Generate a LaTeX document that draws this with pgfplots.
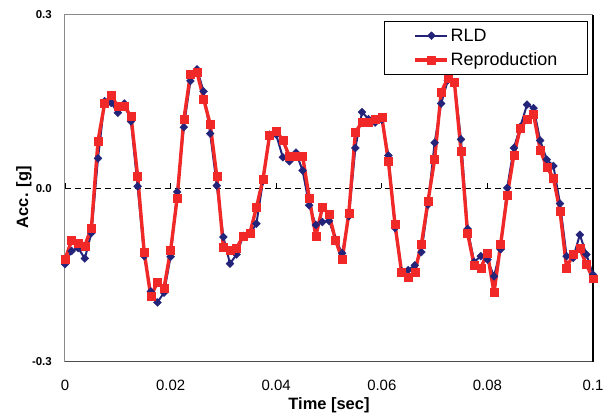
\documentclass[border=0pt]{standalone}
\usepackage{fontspec}
\setmainfont{Liberation Sans}
\usepackage{pgfplots}
\pgfplotsset{compat=1.18}
\usepackage{pgfplotstable}
\definecolor{rldBlue}{HTML}{23237A}
\definecolor{repRed}{HTML}{F02828}
\definecolor{frameG}{HTML}{8A8A8A}

% time [s], RLD [g], reproduction [g]
\pgfplotstableread{
t rld rep
0 -0.131 -0.123
0.00125 -0.108 -0.090
0.0025 -0.103 -0.094
0.00375 -0.121 -0.099
0.005 -0.077 -0.068
0.00625 0.052 0.082
0.0075 0.151 0.147
0.00875 0.148 0.161
0.01 0.131 0.142
0.01125 0.147 0.142
0.0125 0.116 0.125
0.01375 0.004 0.022
0.015 -0.117 -0.110
0.01625 -0.178 -0.187
0.0175 -0.197 -0.162
0.01875 -0.180 -0.172
0.02 -0.118 -0.107
0.02125 -0.006 -0.016
0.0225 0.106 0.119
0.02375 0.186 0.197
0.025 0.206 0.201
0.02625 0.168 0.155
0.0275 0.095 0.111
0.02875 0.005 0.021
0.03 -0.084 -0.101
0.03125 -0.130 -0.107
0.0325 -0.114 -0.103
0.03375 -0.082 -0.082
0.035 -0.078 -0.078
0.03625 -0.061 -0.033
0.0375 0.013 0.016
0.03875 0.093 0.092
0.04 0.093 0.099
0.04125 0.054 0.084
0.0425 0.047 0.055
0.04375 0.062 0.055
0.045 0.031 0.056
0.04625 -0.029 -0.016
0.0475 -0.063 -0.082
0.04875 -0.058 -0.033
0.05 -0.056 -0.044
0.05125 -0.088 -0.090
0.0525 -0.112 -0.122
0.05375 -0.048 -0.043
0.055 0.070 0.097
0.05625 0.132 0.115
0.0575 0.120 0.115
0.05875 0.114 0.119
0.06 0.119 0.124
0.06125 0.057 0.047
0.0625 -0.068 -0.062
0.06375 -0.143 -0.145
0.065 -0.141 -0.154
0.06625 -0.133 -0.145
0.0675 -0.110 -0.096
0.06875 -0.028 -0.022
0.07 0.079 0.050
0.07125 0.147 0.167
0.0725 0.187 0.190
0.07375 0.184 0.184
0.075 0.085 0.065
0.07625 -0.070 -0.078
0.0775 -0.127 -0.133
0.07875 -0.117 -0.137
0.08 -0.123 -0.112
0.08125 -0.152 -0.180
0.0825 -0.105 -0.097
0.08375 0.001 -0.012
0.085 0.070 0.057
0.08625 0.107 0.105
0.0875 0.145 0.119
0.08875 0.139 0.128
0.09 0.083 0.067
0.09125 0.050 0.037
0.0925 0.039 0.018
0.09375 -0.026 -0.039
0.095 -0.117 -0.137
0.09625 -0.120 -0.114
0.0975 -0.080 -0.104
0.09875 -0.114 -0.131
0.1 -0.149 -0.156
}\accdata

\tikzset{
  rldline/.style={rldBlue, line width=2pt, line join=round},
  repline/.style={repRed, line width=3.4pt, line join=round},
  rldmark/.style={rldBlue, mark=square*, mark size=2.8pt,
                  mark options={rotate=45, solid, line width=0.4pt}},
  repmark/.style={repRed, mark=square*, mark size=4pt,
                  mark options={solid, line width=0.4pt}},
}

\begin{document}
\begin{tikzpicture}
\begin{axis}[
    scale only axis, width=528bp, height=347bp,
    xmin=0, xmax=0.1, ymin=-0.3, ymax=0.3,
    clip=false,
    axis line style={draw=none},
    scaled x ticks=false,
    xtick={0,0.02,0.04,0.06,0.08,0.1},
    xticklabels={0,0.02,0.04,0.06,0.08,0.1},
    ytick={-0.3,0,0.3},
    yticklabels={-0.3,0.0,0.3},
    major tick length=0pt,
    xticklabel style={font=\fontsize{15}{18}\selectfont, inner sep=0pt, anchor=north},
    yticklabel style={font=\bfseries\fontsize{11.5}{13}\selectfont, inner sep=0pt, anchor=east},
    xticklabel shift=18bp, yticklabel shift=13bp,
    xlabel={Time [sec]},
    ylabel={Acc. [g]},
    xlabel style={font=\bfseries\fontsize{16.5}{19}\selectfont,
                  at={(axis description cs:0.5,-0.125)}, anchor=center},
    ylabel style={font=\bfseries\fontsize{16.5}{19}\selectfont,
                  at={(axis description cs:-0.078,0.475)}, anchor=center},
    legend style={at={(0.991,0.983)}, anchor=north east, draw=black,
                  line width=0.8pt, fill=white,
                  font=\fontsize{18}{21}\selectfont,
                  inner xsep=29bp, inner ysep=6bp, row sep=7bp,
                  nodes={inner sep=1.5bp}},
    legend cell align=left,
    legend image code/.code={%
      \draw[mark repeat=2, mark phase=2, #1]
        plot coordinates {(0bp,0bp) (16bp,0bp) (32bp,0bp)};},
]
  \coordinate (bl) at (rel axis cs:0,0);
  \coordinate (tr) at (rel axis cs:1,1);
  % plot area frame and zero line
  \draw[frameG, line width=1bp] (rel axis cs:0,0) -- (rel axis cs:0,1) -- (rel axis cs:1,1);
  \draw[black!70, line width=1bp] (rel axis cs:0,0) -- (rel axis cs:1,0);
  \draw[black, line width=1.2bp] (rel axis cs:1,0) -- (rel axis cs:1,1);
  \draw[black, line width=0.9bp, dash pattern=on 6bp off 4bp] (axis cs:0,0) -- (axis cs:0.1,0);
  \pgfplotsinvokeforeach{0,0.02,0.04,0.06,0.08}{
    \draw[black, line width=0.9bp] (axis cs:#1,0) -- ++(0bp,5bp);}

  \addlegendimage{rldline, rldmark}
  \addlegendentry{RLD}
  \addlegendimage{repline, repmark}
  \addlegendentry{Reproduction}

  \addplot[rldline, forget plot] table[x=t, y=rld] {\accdata};
  \addplot[repline, forget plot] table[x=t, y=rep] {\accdata};
  \addplot[rldmark, only marks, forget plot] table[x=t, y=rld] {\accdata};
  \addplot[repmark, only marks, forget plot] table[x=t, y=rep] {\accdata};
\end{axis}
\pgfresetboundingbox
\path[use as bounding box] ([xshift=-65bp, yshift=-57bp]bl) rectangle ([xshift=21bp, yshift=15bp]tr);
\end{tikzpicture}
\end{document}
